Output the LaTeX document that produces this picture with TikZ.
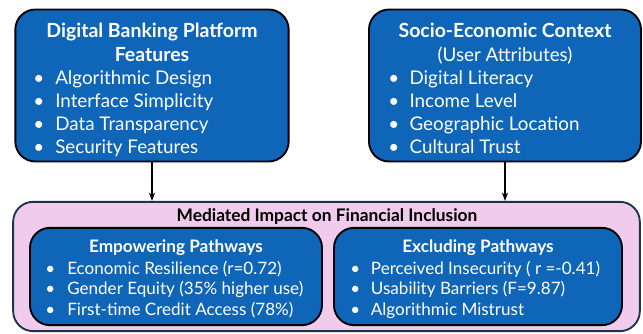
\documentclass[tikz,border=0pt]{standalone}
\usepackage{fontspec}
\setmainfont{Lato}
\usepackage{xcolor}
\usetikzlibrary{arrows.meta, positioning}

\definecolor{panelblue}{HTML}{0F65B7}
\definecolor{panelpink}{HTML}{F1CBEC}
\definecolor{pinkedge}{HTML}{1C3448}

\begin{document}
\begin{tikzpicture}[
  x=0.75pt, y=-0.75pt,
  panel/.style={draw=black, line width=1.4pt, fill=panelblue, rounded corners=15pt},
  outer/.style={draw=pinkedge, line width=1.4pt, fill=panelpink, rounded corners=15pt},
  head/.style={anchor=base, text=white, font=\fontsize{14.6}{17}\selectfont\bfseries, inner sep=0pt},
  subhead/.style={anchor=base, text=white, font=\fontsize{14.1}{17}\selectfont, inner sep=0pt},
  entry/.style={anchor=base west, text=white, font=\fontsize{14.1}{17}\selectfont, inner sep=0pt},
  smallhead/.style={anchor=base, text=white, font=\fontsize{12.9}{15}\selectfont\bfseries, inner sep=0pt},
  smallentry/.style={anchor=base west, text=white, font=\fontsize{12.8}{15}\selectfont, inner sep=0pt},
  arrow/.style={-{Stealth[length=2.2mm, width=1.6mm]}, line width=1.1pt}
]
\useasboundingbox (0,0) rectangle (643,333);

% top inputs
\node[panel, minimum width=205pt, minimum height=114pt] (platform) at (152, 85.5) {};
\node[head] (platform-t1) at (152, 37.5) {Digital Banking Platform};
\node[head] (platform-t2) at (152, 61.5) {Features};
\foreach \txt [count=\i] in {Algorithmic Design, Interface Simplicity, Data Transparency, Security Features}
  \node[entry] (platform-\i) at (33, 84+23.2*\i-23.2) {\makebox[16.5pt][l]{\textbullet}\txt};

\node[panel, minimum width=204pt, minimum height=114pt] (context) at (505, 85.5) {};
\node[head] (context-t1) at (505, 37.5) {Socio-Economic Context};
\node[subhead] (context-t2) at (505, 61.5) {(User Attributes)};
\foreach \txt [count=\i] in {Digital Literacy, Income Level, Geographic Location, Cultural Trust}
  \node[entry] (context-\i) at (388, 84+23.2*\i-23.2) {\makebox[16pt][l]{\textbullet}\txt};

% mediated impact
\node[outer, minimum width=470pt, minimum height=97pt] (impact) at (326.5, 266.5) {};
\node[anchor=base, font=\fontsize{13}{15}\selectfont\bfseries, inner sep=0pt] (impact-t) at (327, 221.5) {Mediated Impact on Financial Inclusion};

\node[panel, minimum width=219pt, minimum height=73pt] (empower) at (176, 276.5) {};
\node[smallhead] (empower-t) at (176, 252.5) {Empowering Pathways};
\foreach \txt [count=\i] in {Economic Resilience (r=0.72), Gender Equity (35\% higher use), First-time Credit Access (78\%)}
  \node[smallentry] (empower-\i) at (45, 274+20.7*\i-20.7) {\makebox[16.5pt][l]{\textbullet}\txt};

\node[panel, minimum width=216pt, minimum height=73pt] (exclude) at (478, 276.5) {};
\node[smallhead] (exclude-t) at (478, 252.5) {Excluding Pathways};
\foreach \txt [count=\i] in {Perceived Insecurity ( r =-0.41), Usability Barriers (F=9.87), Algorithmic Mistrust}
  \node[smallentry] (exclude-\i) at (350, 274+20.7*\i-20.7) {\makebox[15.5pt][l]{\textbullet}\txt};

\draw[arrow] (platform.south) -- (platform.south |- impact.north);
\draw[arrow] (context.south) -- (context.south |- impact.north);

\end{tikzpicture}
\end{document}
